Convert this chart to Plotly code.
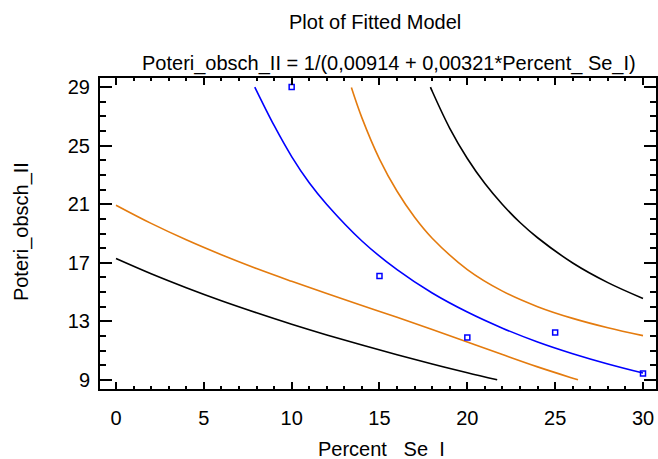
import plotly.graph_objects as go

# Observed data
obs_x = [10, 15, 20, 25, 30]
obs_y = [29.0, 16.1, 11.9, 12.25, 9.45]

# Fitted model: Poteri_obsch_II = 1/(0,00914 + 0,00321*Percent_Se_I)
fit_x = [7.9, 9, 10, 11, 12, 14, 16, 18, 20, 22, 24, 26, 28, 30]
fit_y = [28.99, 26.37, 24.25, 22.46, 20.98, 18.49, 16.53, 14.94, 13.64,
         12.54, 11.60, 10.80, 10.10, 9.48]

# 95% confidence limits for the mean
conf_lo_x = [0, 2, 4, 6, 8, 10, 12, 14, 16, 18, 20, 22, 24, 26, 26.3]
conf_lo_y = [20.93, 19.69, 18.57, 17.55, 16.61, 15.74, 14.90, 14.09, 13.28,
             12.45, 11.60, 10.74, 9.90, 9.13, 9.02]
conf_hi_x = [13.4, 14, 15, 16, 17, 18, 20, 22, 24, 26, 28, 30]
conf_hi_y = [28.96, 26.89, 24.08, 21.88, 20.11, 18.68, 16.54, 15.07, 14.01,
             13.21, 12.57, 12.03]

# 95% prediction limits
pred_lo_x = [0, 2, 4, 6, 8, 10, 12, 14, 16, 18, 20, 21.7]
pred_lo_y = [17.29, 16.25, 15.30, 14.41, 13.59, 12.81, 12.08, 11.39, 10.73,
             10.10, 9.50, 9.02]
pred_hi_x = [17.9, 18, 19, 20, 21, 22, 23, 24, 26, 28, 30]
pred_hi_y = [28.99, 28.71, 26.18, 24.12, 22.41, 20.98, 19.75, 18.71, 16.99,
             15.65, 14.57]

x_ticks = [0, 5, 10, 15, 20, 25, 30]
y_ticks = [9, 13, 17, 21, 25, 29]

FONT = "Liberation Sans, Arial, sans-serif"
ORANGE = "#E47B0E"
BLUE = "#0000FF"

fig = go.Figure()

def curve(xs, ys, color):
    fig.add_trace(go.Scatter(x=xs, y=ys, mode="lines", line_shape="spline",
                             line=dict(color=color, width=1.6),
                             hoverinfo="skip", showlegend=False))

curve(pred_lo_x, pred_lo_y, "black")
curve(pred_hi_x, pred_hi_y, "black")
curve(conf_lo_x, conf_lo_y, ORANGE)
curve(conf_hi_x, conf_hi_y, ORANGE)
curve(fit_x, fit_y, BLUE)

fig.add_trace(go.Scatter(x=obs_x, y=obs_y, mode="markers",
                         marker=dict(symbol="square-open", size=5,
                                     color=BLUE, line=dict(width=1.5, color=BLUE)),
                         showlegend=False))

axis_common = dict(showline=True, linecolor="black", linewidth=2,
                   mirror="allticks", ticks="inside", tickcolor="black",
                   tickwidth=1.5, showgrid=False, zeroline=False,
                   tickfont=dict(family=FONT, size=20, color="black"))

fig.update_xaxes(range=[-0.91, 30.74], tickvals=x_ticks, ticklen=7,
                 minor=dict(dtick=1, tick0=0, ticks="inside", ticklen=3,
                            tickwidth=1.5, tickcolor="black"),
                 ticklabelstandoff=10, **axis_common)
fig.update_yaxes(range=[8.39, 29.61], tickvals=y_ticks, ticklen=12,
                 minor=dict(dtick=1, tick0=9, ticks="inside", ticklen=6,
                            tickwidth=1.5, tickcolor="black"),
                 ticklabelstandoff=4, **axis_common)

def label(text, x, y, size=20, angle=0):
    fig.add_annotation(text=text, x=x, y=y, xref="paper", yref="paper",
                       showarrow=False, textangle=angle,
                       xanchor="center", yanchor="middle",
                       font=dict(family=FONT, size=size, color="black"))

label("Plot of Fitted Model", 0.495, 1.180)
label("Poteri_obsch_II = 1/(0,00914 + 0,00321*Percent_ Se_I)", 0.520, 1.048)
label("Percent_ Se_I", 0.507, -0.196)
label("Poteri_obsch_II", -0.140, 0.505, angle=-90)

fig.update_layout(width=658, height=459,
                  margin=dict(l=100, r=0, t=78, b=70),
                  paper_bgcolor="white", plot_bgcolor="white")

fig.write_html("out.html")
